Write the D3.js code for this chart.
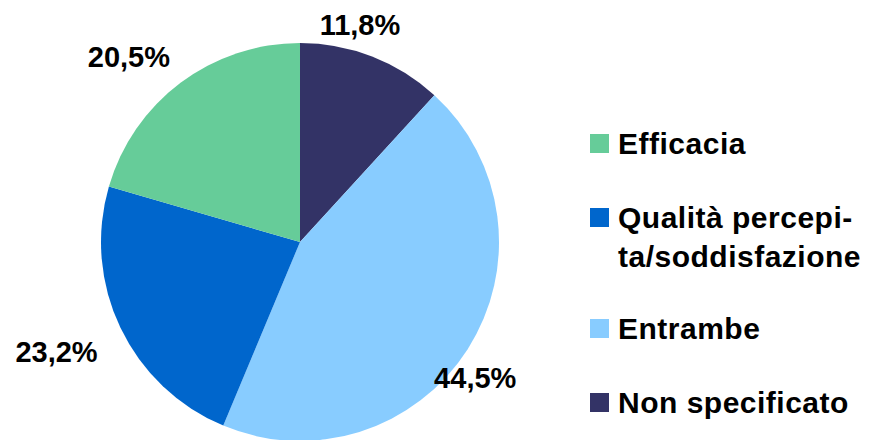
<!DOCTYPE html>
<html>
<head>
<meta charset="utf-8">
<script src="https://cdn.jsdelivr.net/npm/d3@7"></script>
<style>
  body { margin: 0; background: #fff; }
  text { font-family: "Liberation Sans", Arial, sans-serif; font-weight: bold; fill: #000; }
</style>
</head>
<body>
<svg id="chart" width="870" height="440"></svg>
<script>
// categories, clockwise from 12 o'clock
var categories = ["Non specificato", "Entrambe", "Qualità percepita/soddisfazione", "Efficacia"];
var values = [11.8, 44.5, 23.2, 20.5];
var colors = ["#333366", "#88CCFF", "#0066CC", "#66CC99"];
// legend order and line breaks as shown
var legendOrder = ["Efficacia", "Qualità percepita/soddisfazione", "Entrambe", "Non specificato"];
var legendLines = [["Efficacia"], ["Qualità percepi-", "ta/soddisfazione"], ["Entrambe"], ["Non specificato"]];

var svg = d3.select("#chart"),
    cx = 300,
    cy = 242,
    r = 199;

var color = d3.scaleOrdinal().domain(categories).range(colors);

var pie = d3.pie().sort(null).value(function(d){ return d.value; });
var data = categories.map(function(c, i){ return {name: c, value: values[i]}; });
var arcs = pie(data);

var arc = d3.arc().innerRadius(0).outerRadius(r);
var labelArc = d3.arc().innerRadius(240).outerRadius(240);

var g = svg.append("g").attr("transform", "translate(" + cx + "," + cy + ")");

g.selectAll("path")
    .data(arcs)
  .enter().append("path")
    .attr("d", arc)
    .attr("fill", function(d){ return color(d.data.name); });

// labels sit a little left/down of the pie centre, like the original
var lg = svg.append("g").attr("transform", "translate(" + (cx - 27) + "," + (cy + 6) + ")");
lg.selectAll("text")
    .data(arcs)
  .enter().append("text")
    .attr("transform", function(d){ return "translate(" + labelArc.centroid(d) + ")"; })
    .attr("text-anchor", "middle")
    .attr("dy", "0.36em")
    .style("font-size", "29px")
    .text(function(d){ return d3.format(".1f")(d.data.value).replace(".", ",") + "%"; });

// legend
var legY = [134, 208, 319, 393];
var leg = svg.append("g");
legendOrder.forEach(function(name, i){
    var item = leg.append("g").attr("transform", "translate(590," + legY[i] + ")");
    item.append("rect")
        .attr("width", 19).attr("height", 19)
        .attr("fill", color(name));
    var t = item.append("text")
        .attr("x", 28)
        .attr("y", 20)
        .style("font-size", "30px")
        .style("letter-spacing", "0.5px");
    legendLines[i].forEach(function(line, j){
        t.append("tspan").attr("x", 28).attr("dy", j ? 39 : 0).text(line);
    });
});
</script>
</body>
</html>
